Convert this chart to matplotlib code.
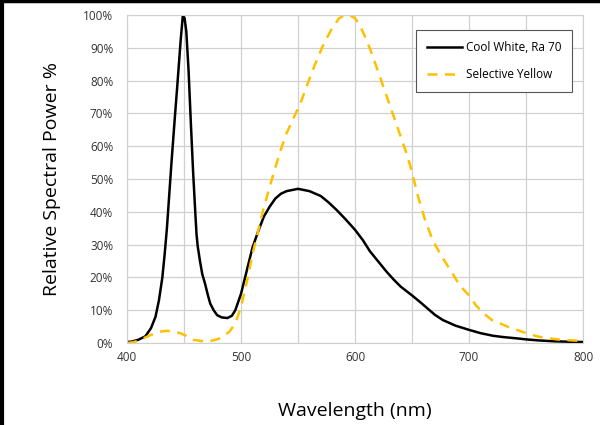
import numpy as np
import matplotlib
matplotlib.use('Agg')
import matplotlib.pyplot as plt
from matplotlib.ticker import MultipleLocator, PercentFormatter
from matplotlib.lines import Line2D

# Cool White, Ra 70 (wavelength nm, relative power %)
cw_nm = [400, 404, 410, 416, 421, 425, 428, 431, 433, 435, 437, 439, 442, 444, 447,
         449, 450.5, 452, 454, 456, 458, 460, 461, 462, 464, 466, 468.5, 471, 473, 476,
         479, 483, 488, 492, 495, 500, 505, 510, 515, 520, 525, 530, 535, 540, 550,
         560, 570, 577, 584, 592, 600, 607, 613, 620, 628, 634, 640, 650, 657, 663,
         670, 677, 688, 700, 710, 721, 730, 742, 750, 760, 775, 790, 800]
cw_pct = [0.3, 0.4, 1, 2, 4.5, 8, 13, 20, 27, 35, 45, 55, 69, 78, 92,
          100, 99, 95, 83, 67, 52, 39, 33, 29.5, 25, 21, 18, 14.5, 12, 10,
          8.5, 7.8, 7.6, 8.3, 10, 15, 22, 29, 34, 38.5, 41.5, 44, 45.5, 46.3, 47,
          46.3, 44.8, 42.8, 40.5, 37.6, 34.5, 31.3, 28, 25, 21.6, 19.3, 17.2, 14.5, 12.5, 10.7,
          8.6, 7, 5.3, 4, 3, 2.2, 1.8, 1.4, 1.1, 0.8, 0.5, 0.35, 0.3]

# Selective Yellow
sy_nm = [400, 405, 410, 415, 420, 425, 430, 435, 440, 446.5, 452, 458, 465, 473, 480,
         484, 490, 495, 500, 503, 506, 510, 515, 519, 523, 528, 534, 540, 546, 552,
         560, 565, 571, 576, 580, 586, 590, 595, 600, 604, 610, 616, 620, 624, 628,
         633, 638, 642, 646, 650, 655, 661, 668, 675, 684, 692, 700, 706, 712, 720,
         727, 735, 742, 750, 760, 768, 780, 800]
sy_pct = [0, 0.2, 0.7, 1.5, 2.3, 3, 3.5, 3.7, 3.5, 3, 2.2, 1, 0.6, 0.6, 1.2,
          2, 3.5, 6, 11, 15.5, 20, 27, 34, 40, 45, 51, 58, 64, 68.5, 73,
          80.5, 85, 90, 93.5, 96, 99, 99.8, 100, 99, 97, 92.5, 87, 83, 79, 75,
          70, 65, 61, 57, 52, 45, 38, 31.4, 27, 22, 17.5, 14.5, 11.5, 9.3, 7,
          6, 4.8, 4, 3, 2, 1.5, 1, 0.6]

plt.rcParams['font.family'] = ['Open Sans', 'DejaVu Sans']

fig = plt.figure(figsize=(6, 4.25), dpi=100)
ax = fig.add_axes([0.2117, 0.193, 0.76, 0.7717])

ax.plot(cw_nm, cw_pct, color='black', lw=1.8, label='Cool White, Ra 70')
ax.plot(sy_nm, sy_pct, color='#FFC000', lw=1.8, ls=(0, (4, 3)), label='Selective Yellow')

ax.set_xlim(400, 800)
ax.set_ylim(0, 100)
ax.xaxis.set_major_locator(MultipleLocator(100))
ax.xaxis.set_minor_locator(MultipleLocator(50))
ax.yaxis.set_major_locator(MultipleLocator(10))
ax.yaxis.set_major_formatter(PercentFormatter(decimals=0))
ax.grid(which='both', color='#d0d0d0', lw=0.9)
ax.set_axisbelow(True)
ax.tick_params(which='both', length=0, labelsize=8.5, colors='#333333')
ax.tick_params(axis='y', pad=10)
ax.tick_params(axis='x', pad=6)
for s in ax.spines.values():
    s.set_color('#d0d0d0')

ax.set_ylabel('Relative Spectral Power %', fontsize=14, labelpad=16)
ax.set_xlabel('Wavelength (nm)', fontsize=14, labelpad=27)

leg = ax.legend(loc='upper right', bbox_to_anchor=(0.988, 0.972), fontsize=8.5,
                fancybox=False, framealpha=1, edgecolor='#555555',
                handlelength=3.0, handletextpad=0.3, labelspacing=1.2,
                borderpad=0.9)
leg.get_frame().set_linewidth(0.8)

# black frame on top and left edge
fig.add_artist(Line2D([0, 1], [0.997, 0.997], color='black', lw=2.5, transform=fig.transFigure))
fig.add_artist(Line2D([0.004, 0.004], [0, 1], color='black', lw=3, transform=fig.transFigure))

fig.savefig('out.png', dpi=100)
